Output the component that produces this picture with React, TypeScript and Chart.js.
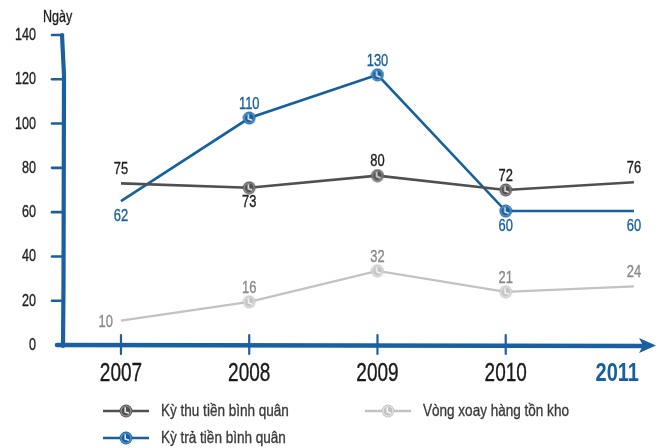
import React, { useEffect, useRef } from "react";
import { Chart, registerables } from "chart.js";

Chart.register(...registerables);

// ---- data ----
const categories = ["2007", "2008", "2009", "2010", "2011"];
const yTicks = [0, 20, 40, 60, 80, 100, 120, 140];
const seriesNames = ["Kỳ thu tiền bình quân", "Vòng xoay hàng tồn kho", "Kỳ trả tiền bình quân"];
const collectionDays = [73, 71, 76.5, 70, 73.5];
const collectionLabels = ["75", "73", "80", "72", "76"];
const inventoryDays = [11, 19.5, 33.5, 24, 26.5];
const inventoryLabels = ["10", "16", "32", "21", "24"];
const payableDays = [65, 102.5, 122, 60.5, 60.5];
const payableLabels = ["62", "110", "130", "60", "60"];
const yAxisTitle = "Ngày";

// ---- layout / style ----
const collectionLabelPos = ["above", "below", "above", "above", "above"];
const inventoryLabelPos = ["left", "above", "above", "above", "above"];
const payableLabelPos = ["below", "above", "above", "below", "below"];

const DARK = "#505050";
const LIGHT = "#c2c2c2";
const BLUE = "#17609f";
const AXIS = "#1a5f9f";
const FONT = '"Liberation Sans", Arial, sans-serif';
const SX = 0.76; // horizontal condensing of text

function makeMarker(fill: string, ring: string) {
  const c = document.createElement("canvas");
  c.width = 14;
  c.height = 14;
  const g = c.getContext("2d")!;
  g.beginPath();
  g.arc(7, 7, 6.4, 0, Math.PI * 2);
  g.fillStyle = fill;
  g.fill();
  g.beginPath();
  g.arc(7, 7, 5, 0, Math.PI * 2);
  g.lineWidth = 1.1;
  g.strokeStyle = ring;
  g.stroke();
  g.beginPath();
  g.moveTo(6.2, 3.2);
  g.lineTo(6.2, 8);
  g.lineTo(10, 9.2);
  g.lineWidth = 1.5;
  g.strokeStyle = "rgba(255,255,255,0.9)";
  g.stroke();
  return c;
}

function text(
  ctx: CanvasRenderingContext2D,
  s: string,
  x: number,
  y: number,
  size: number,
  color: string,
  align: CanvasTextAlign = "center",
  bold = false,
  sx = SX
) {
  ctx.save();
  ctx.translate(x, y);
  ctx.scale(sx, 1);
  ctx.font = `${bold ? "bold " : ""}${size}px ${FONT}`;
  ctx.fillStyle = color;
  ctx.strokeStyle = color;
  ctx.lineWidth = 0.35;
  ctx.textAlign = align;
  ctx.textBaseline = "middle";
  ctx.fillText(s, 0, 0);
  if (!bold) ctx.strokeText(s, 0, 0);
  ctx.restore();
}

export default function App() {
  const ref = useRef<HTMLCanvasElement>(null);

  useEffect(() => {
    const canvas = ref.current!;
    const mDark = makeMarker(DARK, "#9a9a9a");
    const mLight = makeMarker(LIGHT, "#e6e6e6");
    const mBlue = makeMarker(BLUE, "#6c9fd0");

    const pts = (vals: number[]) => vals.map((v, i) => ({ x: i, y: v }));
    const inner = (m: HTMLCanvasElement) => (ctx: any) =>
      ctx.dataIndex === 0 || ctx.dataIndex === categories.length - 1 ? false : m;
    const radius = categories.map((_, i) => (i === 0 || i === categories.length - 1 ? 0 : 6));

    const labelSets = [
      { labels: collectionLabels, pos: collectionLabelPos, color: "#1e1e1e" },
      { labels: inventoryLabels, pos: inventoryLabelPos, color: "#8a8a8a" },
      { labels: payableLabels, pos: payableLabelPos, color: BLUE },
    ];
    const legendItems = [
      { name: seriesNames[0], color: DARK, marker: mDark, x: 103, y: 411 },
      { name: seriesNames[1], color: LIGHT, marker: mLight, x: 365, y: 411 },
      { name: seriesNames[2], color: BLUE, marker: mBlue, x: 103, y: 438 },
    ];

    const decor = {
      id: "decor",
      beforeDatasetsDraw(chart: any) {
        const ctx = chart.ctx as CanvasRenderingContext2D;
        const xs = chart.scales.x;
        const ys = chart.scales.y;
        const ax = xs.left;
        const y0 = ys.getPixelForValue(0);
        const yTop = ys.getPixelForValue(140);
        ctx.save();
        ctx.strokeStyle = AXIS;
        ctx.fillStyle = AXIS;
        ctx.lineCap = "round";
        // y axis
        ctx.lineWidth = 4.2;
        ctx.beginPath();
        ctx.moveTo(ax - 1, yTop);
        ctx.lineTo(ax + 1, yTop + 40);
        ctx.lineTo(ax + 0.5, y0 - 60);
        ctx.lineTo(ax, y0 + 1);
        ctx.stroke();
        // y ticks
        ctx.lineWidth = 2.6;
        yTicks.forEach((t) => {
          if (t === 0) return;
          const py = ys.getPixelForValue(t);
          ctx.beginPath();
          ctx.moveTo(ax - 11, py);
          ctx.lineTo(ax, py);
          ctx.stroke();
        });
        // x axis
        ctx.lineWidth = 4.6;
        ctx.beginPath();
        ctx.moveTo(ax - 6, y0);
        ctx.lineTo(xs.right - 8, y0 + 1);
        ctx.stroke();
        // arrow head
        ctx.beginPath();
        ctx.moveTo(xs.right + 1, y0 + 0.5);
        ctx.lineTo(xs.right - 16, y0 - 7);
        ctx.lineTo(xs.right - 12, y0 + 0.5);
        ctx.lineTo(xs.right - 16, y0 + 8);
        ctx.closePath();
        ctx.fill();
        // x ticks
        ctx.lineWidth = 2.2;
        categories.forEach((_, i) => {
          if (i === categories.length - 1) return;
          const px = xs.getPixelForValue(i);
          ctx.beginPath();
          ctx.moveTo(px, y0 - 10);
          ctx.lineTo(px, y0 + 9);
          ctx.stroke();
        });
        ctx.restore();
        // y tick labels
        yTicks.forEach((t) => {
          text(ctx, String(t), ax - 27, ys.getPixelForValue(t) + 0.5, 16.5, "#1e1e1e", "right");
        });
        // axis title
        text(ctx, yAxisTitle, 43, 17, 16.5, "#1e1e1e", "left");
        // x labels
        categories.forEach((c, i) => {
          const px = xs.getPixelForValue(i);
          const last = i === categories.length - 1;
          if (last) text(ctx, c, px + 5, y0 + 29, 25, BLUE, "right", true, 0.8);
          else text(ctx, c, px, y0 + 29, 25, "#1a1a1a", "center");
        });
      },
      afterDatasetsDraw(chart: any) {
        const ctx = chart.ctx as CanvasRenderingContext2D;
        labelSets.forEach((set, di) => {
          const meta = chart.getDatasetMeta(di);
          meta.data.forEach((el: any, i: number) => {
            const p = set.pos[i];
            if (p === "above") text(ctx, set.labels[i], el.x, el.y - 14, 17, set.color, "center");
            else if (p === "below") text(ctx, set.labels[i], el.x, el.y + 15, 17, set.color, "center");
            else text(ctx, set.labels[i], el.x - 8, el.y + 2, 17, set.color, "right");
          });
        });
      },
      afterDraw(chart: any) {
        const ctx = chart.ctx as CanvasRenderingContext2D;
        legendItems.forEach((it) => {
          ctx.save();
          ctx.strokeStyle = it.color;
          ctx.lineWidth = 2.6;
          ctx.beginPath();
          ctx.moveTo(it.x, it.y);
          ctx.lineTo(it.x + 46, it.y);
          ctx.stroke();
          ctx.drawImage(it.marker, it.x + 23 - 7, it.y - 7);
          ctx.restore();
          text(ctx, it.name, it.x + 58, it.y, 16.5, "#3a3a3a", "left", false, 0.82);
        });
      },
    };

    const chart = new Chart(canvas, {
      type: "line",
      data: {
        datasets: [
          {
            label: seriesNames[0],
            data: pts(collectionDays),
            borderColor: DARK,
            borderWidth: 2.6,
            pointStyle: inner(mDark) as any,
            pointRadius: radius,
          },
          {
            label: seriesNames[1],
            data: pts(inventoryDays),
            borderColor: LIGHT,
            borderWidth: 2.2,
            pointStyle: inner(mLight) as any,
            pointRadius: radius,
          },
          {
            label: seriesNames[2],
            data: pts(payableDays),
            borderColor: BLUE,
            borderWidth: 2.6,
            pointStyle: inner(mBlue) as any,
            pointRadius: radius,
          },
        ],
      },
      options: {
        animation: false,
        responsive: false,
        maintainAspectRatio: false,
        layout: { padding: { left: 63, right: 6, top: 35, bottom: 103 } },
        scales: {
          x: { type: "linear", min: -0.452, max: 4.164, display: false },
          y: { type: "linear", min: 0, max: 140, display: false },
        },
        plugins: { legend: { display: false }, tooltip: { enabled: false } },
      },
      plugins: [decor],
    });
    return () => chart.destroy();
  }, []);

  return (
    <div style={{ position: "fixed", left: 0, top: 0, width: 661, height: 448, background: "#fff" }}>
      <canvas ref={ref} width={661} height={448} style={{ width: 661, height: 448, display: "block" }} />
    </div>
  );
}
